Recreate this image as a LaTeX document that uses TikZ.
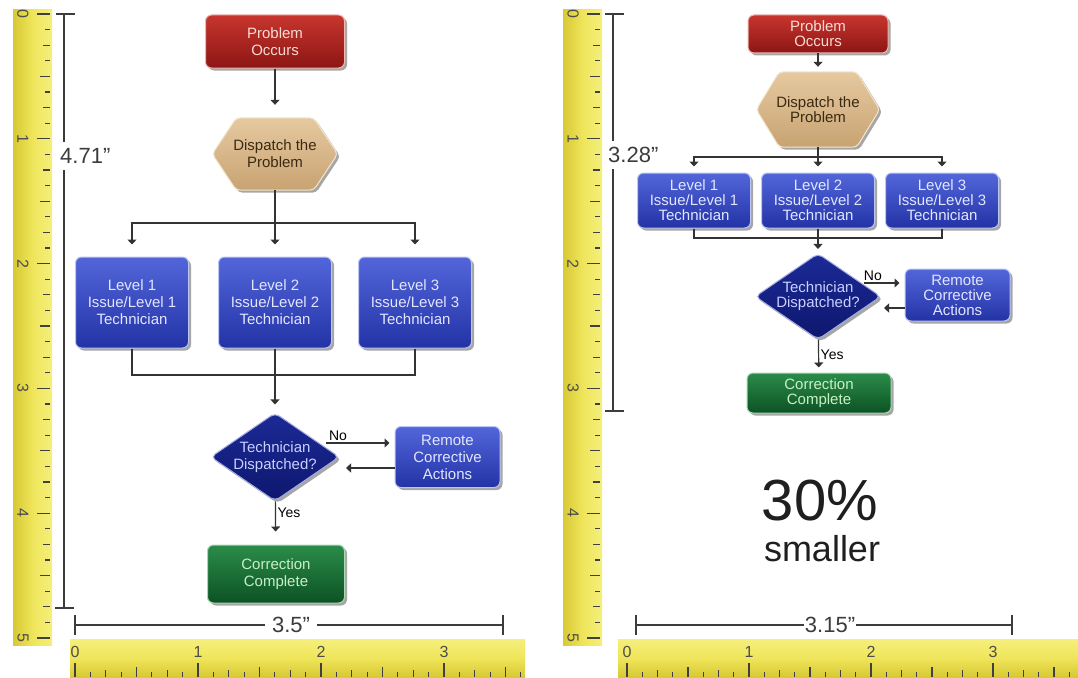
\documentclass[tikz,border=0pt]{standalone}
\usepackage{fontspec}
\setmainfont{Liberation Sans}
\usetikzlibrary{arrows.meta,positioning,calc,shapes.geometric,shadows,backgrounds}

\definecolor{rulerdark}{HTML}{D8C934}
\definecolor{rulermid}{HTML}{EFE55A}
\definecolor{rulerlight}{HTML}{F5EF7C}
\definecolor{redtop}{HTML}{C8352F}
\definecolor{redbot}{HTML}{8C1614}
\definecolor{redrim}{HTML}{EDB8B0}
\definecolor{redtxt}{HTML}{F8DCD4}
\definecolor{tantop}{HTML}{E6C9A0}
\definecolor{tanbot}{HTML}{C8A372}
\definecolor{tanrim}{HTML}{F4E6CE}
\definecolor{tantxt}{HTML}{3A2A14}
\definecolor{bluetop}{HTML}{5266DA}
\definecolor{bluebot}{HTML}{2333A6}
\definecolor{bluerim}{HTML}{BCC4F2}
\definecolor{bluetxt}{HTML}{E2E6FF}
\definecolor{navytop}{HTML}{1C2A96}
\definecolor{navybot}{HTML}{0E176E}
\definecolor{navyrim}{HTML}{A4ACE4}
\definecolor{navytxt}{HTML}{C8D0FF}
\definecolor{greentop}{HTML}{2B8C4A}
\definecolor{greenbot}{HTML}{0C5224}
\definecolor{greenrim}{HTML}{AAD8B2}
\definecolor{greentxt}{HTML}{C8F0C4}
\definecolor{dimgray}{HTML}{3C3C3C}

\begin{document}
\begin{tikzpicture}[x=1pt, y=-1pt,
  line/.style={draw=black!80, line width=1.2pt},
  flow/.style={line, -{Triangle[width=9pt,length=5pt]}},
  lbl/.style={font=\fontsize{14}{14}\selectfont, inner sep=1.5pt},
  lfont/.style={font=\fontsize{15}{17}\selectfont},
  rfont/.style={font=\fontsize{15}{15}\selectfont},
  card/.style={rounded corners=6pt, line width=1pt, align=center, inner sep=0pt,
    drop shadow={shadow xshift=2.5pt, shadow yshift=-2.5pt, opacity=0.35, fill=black}},
  redcard/.style={card, draw=redrim, top color=redtop, bottom color=redbot, text=redtxt},
  bluecard/.style={card, draw=bluerim, top color=bluetop, bottom color=bluebot, text=bluetxt},
  greencard/.style={card, draw=greenrim, top color=greentop, bottom color=greenbot, text=greentxt},
  decision/.style={card, shape=diamond, aspect=1.46, rounded corners=5pt,
    draw=navyrim, top color=navytop, bottom color=navybot, text=navytxt},
  hexnode/.style={align=center, inner sep=0pt, text=tantxt},
  hexfill/.style={rounded corners=4pt, line width=1pt, draw=tanrim, top color=tantop, bottom color=tanbot,
    drop shadow={shadow xshift=2.5pt, shadow yshift=-2.5pt, opacity=0.35, fill=black}},
  tick/.style={draw=black!75, line width=1.2pt},
  rulernum/.style={font=\fontsize{16}{16}\selectfont, text=black!70, inner sep=0pt},
  dimline/.style={draw=dimgray, line width=1.6pt},
  dimcap/.style={draw=dimgray, line width=2.6pt},
  dimlabel/.style={font=\fontsize{22}{22}\selectfont, text=dimgray, fill=white, inner ysep=6pt}
]
  \useasboundingbox (0,0) rectangle (1078,677);
  \begin{scope}[on background layer]
    \fill[white] (0,0) rectangle (1078,677);
  \end{scope}

  % rulers, vertical
  \foreach \side/\xo in {l/0, r/550} {
    \fill[left color=rulerdark, right color=rulerlight, middle color=rulermid] (13+\xo,10) rectangle (52+\xo,645);
    \foreach \i in {0,...,40} {
      \pgfmathsetmacro{\len}{mod(\i,8)==0 ? 13 : (mod(\i,4)==0 ? 10 : (mod(\i,2)==0 ? 7 : 5))}
      \draw[tick] (50+\xo,14+\i*15.6) -- ++(-\len,0);
    }
    \foreach \n in {0,...,5}
      \node[rulernum, rotate=-90] (\side v\n) at (23+\xo,14+\n*124.8) {\n};
  }
  % rulers, horizontal
  \fill[top color=rulerlight, bottom color=rulerdark, middle color=rulermid] (70,639) rectangle (525,677);
  \foreach \i in {0,...,29} {
    \pgfmathsetmacro{\len}{mod(\i,8)==0 ? 14 : (mod(\i,4)==0 ? 10 : (mod(\i,2)==0 ? 7 : 5))}
    \draw[tick] (75+\i*15.375,677) -- ++(0,-\len);
  }
  \foreach \n in {0,...,3}
    \node[rulernum] (lh\n) at (75+\n*123,652) {\n};
  \fill[top color=rulerlight, bottom color=rulerdark, middle color=rulermid] (618,639) rectangle (1078,677);
  \foreach \i in {0,...,29} {
    \pgfmathsetmacro{\len}{mod(\i,8)==0 ? 14 : (mod(\i,4)==0 ? 10 : (mod(\i,2)==0 ? 7 : 5))}
    \draw[tick] (627+\i*15.25,677) -- ++(0,-\len);
  }
  \foreach \n in {0,...,3}
    \node[rulernum] (rh\n) at (627+\n*122,652) {\n};

  % dimensions
  \coordinate (ldimtop) at (64,14);
  \coordinate (ldimbot) at (64,608);
  \draw[dimline] (ldimtop) -- (ldimbot);
  \draw[dimcap] ($(ldimtop)+(-8,0)$) -- ($(ldimtop)+(11,0)$);
  \draw[dimcap] ($(ldimbot)+(-9,0)$) -- ($(ldimbot)+(10,0)$);
  \node[dimlabel, anchor=west, inner xsep=1pt] (ldimh) at (59,156) {4.71”};
  \coordinate (ldimleft) at (75,625);
  \coordinate (ldimright) at (503,625);
  \draw[dimline] (ldimleft) -- (ldimright);
  \draw[dimcap] ($(ldimleft)+(0,-10)$) -- ($(ldimleft)+(0,10)$);
  \draw[dimcap] ($(ldimright)+(0,-10)$) -- ($(ldimright)+(0,10)$);
  \node[dimlabel, inner xsep=7pt] (ldimw) at (291,625) {3.5”};
  \coordinate (rdimtop) at (613,14);
  \coordinate (rdimbot) at (613,411);
  \draw[dimline] (rdimtop) -- (rdimbot);
  \draw[dimcap] ($(rdimtop)+(-8,0)$) -- ($(rdimtop)+(11,0)$);
  \draw[dimcap] ($(rdimbot)+(-8,0)$) -- ($(rdimbot)+(11,0)$);
  \node[dimlabel, anchor=west, inner xsep=1pt] (rdimh) at (607,155) {3.28”};
  \coordinate (rdimleft) at (636,625);
  \coordinate (rdimright) at (1012,625);
  \draw[dimline] (rdimleft) -- (rdimright);
  \draw[dimcap] ($(rdimleft)+(0,-10)$) -- ($(rdimleft)+(0,10)$);
  \draw[dimcap] ($(rdimright)+(0,-10)$) -- ($(rdimright)+(0,10)$);
  \node[dimlabel, inner xsep=1pt] (rdimw) at (830,625) {3.15”};

  % left chart (full size)
  \node[redcard, lfont, minimum width=139pt, minimum height=53pt] (lpo) at (275,41.5) {Problem\\Occurs};
  \node[hexnode, lfont, minimum width=125pt, minimum height=72pt] (ldp) at (275,154) {Dispatch the\\Problem};
  \foreach \x/\n in {132/1, 275/2, 415/3}
    \node[bluecard, lfont, minimum width=113pt, minimum height=91pt] (ll\n) at (\x,302.5) {Level \n\\Issue/Level \n\\Technician};
  \node[decision, lfont] (ltd) at (275,457) {Technician\\Dispatched?};
  \node[bluecard, lfont, minimum width=105pt, minimum height=61pt] (lrc) at (447.5,457) {Remote\\Corrective\\Actions};
  \node[greencard, lfont, minimum width=137pt, minimum height=58pt] (lcc) at (276,574) {Correction\\Complete};
  \coordinate (lsplit) at (275,223);
  \coordinate (ljoin) at (275,375);

  % right chart (30% smaller)
  \node[redcard, rfont, minimum width=140pt, minimum height=38pt] (rpo) at (818,34) {Problem\\Occurs};
  \node[hexnode, rfont, minimum width=123pt, minimum height=75pt] (rdp) at (818,109.5) {Dispatch the\\Problem};
  \foreach \x/\n in {694/1, 818/2, 942/3}
    \node[bluecard, rfont, minimum width=113pt, minimum height=55pt] (rl\n) at (\x,200.5) {Level \n\\Issue/Level \n\\Technician};
  \node[decision, rfont] (rtd) at (818,296.5) {Technician\\Dispatched?};
  \node[bluecard, rfont, minimum width=105pt, minimum height=52pt] (rrc) at (957.5,295) {Remote\\Corrective\\Actions};
  \node[greencard, rfont, minimum width=144pt, minimum height=40pt] (rcc) at (819,393) {Correction\\Complete};
  \coordinate (rsplit) at (818,157);
  \coordinate (rjoin) at (818,238);

  % hexagons behind their text
  \begin{scope}[on background layer]
    \path[hexfill] (ldp.west) -- ($(ldp.north west)+(24,0)$) -- ($(ldp.north east)+(-24,0)$) -- (ldp.east)
      -- ($(ldp.south east)+(-24,0)$) -- ($(ldp.south west)+(24,0)$) -- cycle;
    \path[hexfill] (rdp.west) -- ($(rdp.north west)+(23,0)$) -- ($(rdp.north east)+(-23,0)$) -- (rdp.east)
      -- ($(rdp.south east)+(-23,0)$) -- ($(rdp.south west)+(23,0)$) -- cycle;
  \end{scope}

  % left arrows
  \draw[flow, shorten >=13pt] (lpo) -- (ldp);
  \draw[line] (ldp) -- (lsplit);
  \foreach \n in {1,2,3}
    \draw[flow, shorten >=12pt] (lsplit) -| (ll\n);
  \draw[line] (ll1) |- (ljoin) -| (ll3);
  \draw[line] (ll2) -- (ljoin);
  \draw[flow, shorten >=8pt] (ljoin) -- (ltd);
  \draw[flow] ($(ltd.center)+(51,-14)$) -- node[lbl, pos=0.19, above] {No} ($(lrc.west)+(-5,-14)$);
  \draw[flow] ($(lrc.west)+(0,11)$) -- ($(ltd.center)+(71,11)$);
  \draw[flow, shorten >=13pt] (ltd) -- node[lbl, pos=0.27, right] {Yes} (lcc);

  % right arrows
  \draw[flow, shorten >=5pt] (rpo) -- (rdp);
  \draw[line] (rdp) -- (rsplit);
  \foreach \n in {1,2,3}
    \draw[flow, shorten >=6pt] (rsplit) -| (rl\n);
  \draw[line] (rl1) |- (rjoin) -| (rl3);
  \draw[line] (rl2) -- (rjoin);
  \draw[flow, shorten >=4pt] (rjoin) -- (rtd);
  \draw[flow] ($(rtd.center)+(46,-13.5)$) -- node[lbl, pos=0.25, above] {No} ($(rrc.west)+(-5,-12)$);
  \draw[flow] ($(rrc.west)+(0,13)$) -- ($(rtd.center)+(66,11.5)$);
  \draw[flow, shorten >=5pt] (rtd) -- node[lbl, pos=0.45, right] {Yes} (rcc);

  % caption
  \node[font=\fontsize{58}{58}\selectfont, text=black!88, anchor=base, inner sep=0pt] (pct) at (820,520) {30\%};
  \node[font=\fontsize{36}{36}\selectfont, text=black!88, anchor=base, inner sep=0pt] (smaller) at (822,561) {smaller};
\end{tikzpicture}
\end{document}
